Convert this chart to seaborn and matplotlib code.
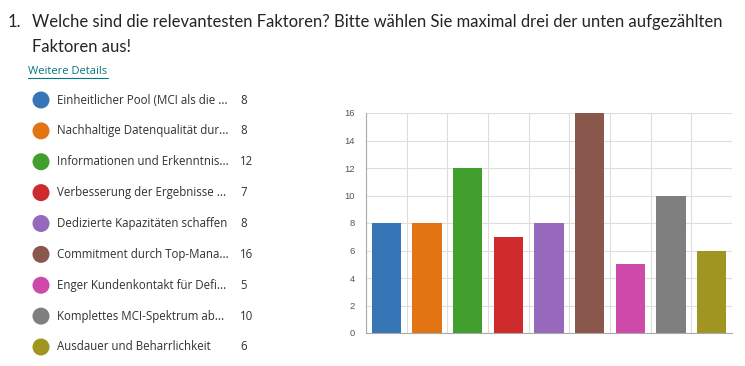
import numpy as np
import pandas as pd
import matplotlib.pyplot as plt
import seaborn as sns

# Daten
faktoren = ["Einheitlicher Pool (MCI als die ...", "Nachhaltige Datenqualität dur...",
            "Informationen und Erkenntnis...", "Verbesserung der Ergebnisse ...",
            "Dedizierte Kapazitäten schaffen", "Commitment durch Top-Mana...",
            "Enger Kundenkontakt für Defi...", "Komplettes MCI-Spektrum ab...",
            "Ausdauer und Beharrlichkeit"]
stimmen = [8, 8, 12, 7, 8, 16, 5, 10, 6]
farben = ["#3776b6", "#e37413", "#41a02d", "#cf2a2c", "#9769bd",
          "#8a574d", "#cd4aab", "#7f7f7f", "#a09520"]
y_ticks = [0, 2, 4, 6, 8, 10, 12, 14, 16]

sns.set_style("white")
plt.rcParams["font.family"] = ["Open Sans", "DejaVu Sans"]

W, H = 745, 366
fig = plt.figure(figsize=(W / 100, H / 100), dpi=100)

# Titel
titel_font = ["Lato", "DejaVu Sans"]
fig.text(8 / W, 1 - 22 / H, "1.", fontsize=12, color="#252423", va="center", family=titel_font)
fig.text(32 / W, 1 - 22 / H, "Welche sind die relevantesten Faktoren? Bitte wählen Sie maximal drei der unten aufgezählten",
         fontsize=12, color="#252423", va="center", family=titel_font)
fig.text(32 / W, 1 - 47 / H, "Faktoren aus!", fontsize=12, color="#252423", va="center", family=titel_font)
fig.text(28 / W, 1 - 71 / H, "Weitere Details", fontsize=8, color="#03787c", va="center")
fig.add_artist(plt.Line2D([28 / W, 108 / W], [1 - 78 / H, 1 - 78 / H], color="#03787c", lw=0.8))

# Legende links
row0, row8 = 100, 347
step = (row8 - row0) / 8
lg = fig.add_axes([0, (H - (row8 + step / 2)) / H, 300 / W, (row8 - row0 + step) / H])
lg.set_xlim(0, 300)
lg.set_ylim(len(faktoren) - 0.5, -0.5)
lg.axis("off")
idx = np.arange(len(faktoren))
lg.scatter(np.full(len(faktoren), 41), idx, s=150, c=farben, linewidths=0)
for i, (name, n) in enumerate(zip(faktoren, stimmen)):
    lg.text(57, i, name, fontsize=8.3, color="#323130", va="center")
    lg.text(240, i, str(n), fontsize=8.3, color="#323130", va="center")

# Balkendiagramm
ax = fig.add_axes([366 / W, (H - 333) / H, (732 - 366) / W, (333 - 113) / H])
df = pd.DataFrame({"Faktor": faktoren, "Anzahl": stimmen})
sns.barplot(data=df, x="Faktor", y="Anzahl", hue="Faktor", palette=farben,
            legend=False, width=0.72, saturation=1, linewidth=0, ax=ax)
ax.set_ylim(0, 16)
ax.set_xlim(-0.5, len(faktoren) - 0.5)
ax.set_yticks(y_ticks)
ax.set_xticks(np.arange(len(faktoren) + 1) - 0.5)
ax.set_xticklabels([])
ax.set_xlabel("")
ax.set_ylabel("")
ax.grid(True, color="#dddddd", lw=0.8)
ax.set_axisbelow(True)
for s in ["top", "right"]:
    ax.spines[s].set_visible(False)
ax.spines["left"].set_color("#aaaaaa")
ax.spines["bottom"].set_color("#aaaaaa")
ax.tick_params(axis="both", length=6, color="#dddddd", labelsize=6.8, labelcolor="#555555")
ax.tick_params(axis="y", pad=2)
for lab in ax.get_yticklabels():
    lab.set_family(["Liberation Sans", "DejaVu Sans"])

fig.savefig("out.png", dpi=100)
